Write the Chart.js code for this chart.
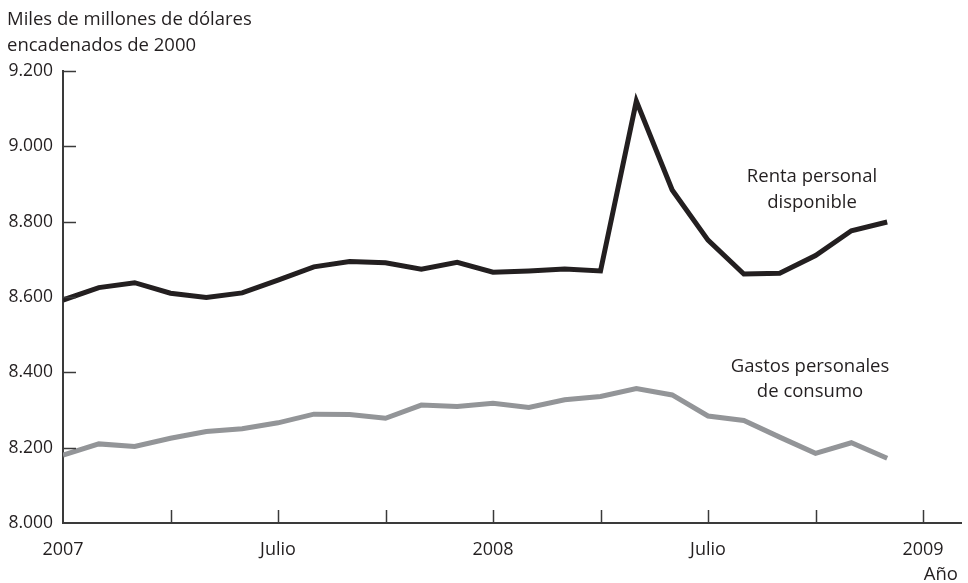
<!DOCTYPE html>
<html>
<head>
<meta charset="utf-8">
<script src="https://cdn.jsdelivr.net/npm/chart.js@4"></script>
<style>
  html, body { margin: 0; padding: 0; background: #fff; }
  #wrap { width: 968px; height: 583px; position: relative; }
</style>
</head>
<body>
<div id="wrap"><canvas id="rentaChart"></canvas></div>
<script>
// meses ene 2007 - dic 2008
const meses = ['ene07','feb07','mar07','abr07','may07','jun07','jul07','ago07','sep07','oct07','nov07','dic07',
               'ene08','feb08','mar08','abr08','may08','jun08','jul08','ago08','sep08','oct08','nov08','dic08'];
const rentaDisponible = [8592, 8625, 8638, 8610, 8599, 8611, 8645, 8680, 8694, 8691, 8674, 8692,
                         8666, 8669, 8674, 8669, 9120, 8884, 8751, 8661, 8663, 8710, 8776, 8799];
const gastosConsumo = [8180, 8210, 8203, 8225, 8243, 8250, 8266, 8289, 8288, 8278, 8313, 8309,
                       8318, 8307, 8327, 8336, 8357, 8340, 8284, 8272, 8228, 8185, 8213, 8172];
const yTicks = [8000, 8200, 8400, 8600, 8800, 9000, 9200];
const xTickLabels = { 0: '2007', 6: 'Julio', 12: '2008', 18: 'Julio', 24: '2009' };

const FONT = '"Open Sans", "Noto Sans", sans-serif';
const TXT = '#231f20';

// ticks pointing inward + texts
const extras = {
  id: 'extras',
  afterDraw(chart) {
    const c = chart.ctx;
    const x = chart.scales.x, y = chart.scales.y;
    const area = chart.chartArea;
    c.save();
    c.strokeStyle = '#3a3a3a';
    c.lineWidth = 1.5;
    yTicks.forEach(v => {
      if (v === 8000) return;
      const py = Math.round(y.getPixelForValue(v)) + 0.5;
      c.beginPath(); c.moveTo(area.left, py); c.lineTo(area.left + 13, py); c.stroke();
    });
    for (let m = 3; m <= 24; m += 3) {
      const px = Math.round(x.getPixelForValue(m)) + 0.5;
      c.beginPath(); c.moveTo(px, area.bottom); c.lineTo(px, area.bottom - 13); c.stroke();
    }
    c.fillStyle = TXT;
    c.font = '18.5px ' + FONT;
    c.textBaseline = 'middle';
    c.textAlign = 'left';
    c.fillText('Miles de millones de dólares', 7, 20);
    c.fillText('encadenados de 2000', 7, 46);
    c.textAlign = 'center';
    c.fillText('Renta personal', 812, 177);
    c.fillText('disponible', 812, 203);
    c.fillText('Gastos personales', 810, 367);
    c.fillText('de consumo', 810, 392);
    c.textAlign = 'right';
    c.fillText('Año', 958, 575);
    c.restore();
  }
};

const ctx = document.getElementById('rentaChart').getContext('2d');
const rentaChart = new Chart(ctx, {
  type: 'line',
  data: {
    datasets: [{
      label: 'Renta personal disponible',
      data: rentaDisponible.map((v, i) => ({ x: i, y: v })),
      borderColor: '#231f20',
      borderWidth: 5,
      pointRadius: 0,
      tension: 0,
      fill: false
    }, {
      label: 'Gastos personales de consumo',
      data: gastosConsumo.map((v, i) => ({ x: i, y: v })),
      borderColor: '#939598',
      borderWidth: 5,
      pointRadius: 0,
      tension: 0,
      fill: false
    }]
  },
  options: {
    responsive: true,
    maintainAspectRatio: false,
    animation: false,
    layout: { padding: { left: 0, right: 7, top: 71, bottom: 0 } },
    plugins: { legend: { display: false }, tooltip: { enabled: false } },
    scales: {
      x: {
        type: 'linear',
        min: 0,
        max: 25.06,
        grid: { display: false, drawTicks: false },
        border: { display: true, color: '#3a3a3a', width: 2 },
        afterFit: s => { s.height = 60; },
        afterBuildTicks: s => { s.ticks = [0, 6, 12, 18, 24].map(v => ({ value: v })); },
        ticks: {
          padding: 16,
          color: TXT,
          font: { size: 18, family: FONT },
          maxRotation: 0,
          callback: v => xTickLabels[v] || ''
        }
      },
      y: {
        min: 8000,
        max: 9200,
        grid: { display: false, drawTicks: false },
        border: { display: true, color: '#3a3a3a', width: 2 },
        afterFit: s => { s.width = 63; },
        afterBuildTicks: s => { s.ticks = yTicks.map(v => ({ value: v })); },
        ticks: {
          padding: 10,
          color: TXT,
          font: { size: 17.5, family: FONT },
          callback: v => v.toLocaleString('de-DE')
        }
      }
    }
  },
  plugins: [extras]
});
</script>
</body>
</html>
